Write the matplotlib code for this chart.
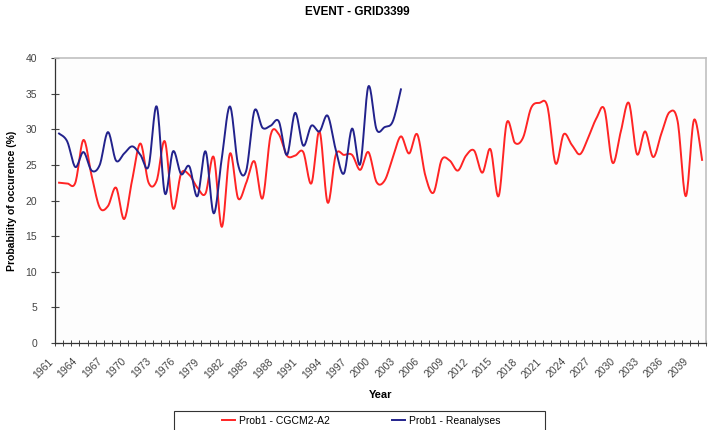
import numpy as np
import matplotlib
matplotlib.use('Agg')
import matplotlib.pyplot as plt
from matplotlib.patches import Rectangle
from matplotlib.transforms import ScaledTranslation

plt.rcParams['font.family'] = ['Liberation Sans', 'DejaVu Sans']

# ===DATA===
years = list(range(1961, 2041))

prob_cgcm = [22.5, 22.4, 22.5, 28.5, 23.5, 19.0, 19.2, 21.8, 17.4, 23.0,
             28.0, 22.5, 22.8, 28.3, 18.9, 23.8, 23.6, 21.8, 21.0, 26.1,
             16.3, 26.6, 20.3, 22.5, 25.5, 20.3, 29.2, 29.3, 26.3, 26.3,
             26.8, 22.4, 29.7, 19.7, 26.4, 26.4, 26.4, 24.3, 26.8, 22.6,
             22.8, 26.0, 29.0, 26.6, 29.3, 23.5, 21.1, 25.7, 25.6, 24.2,
             26.3, 27.0, 23.9, 27.2, 20.6, 30.9, 28.1, 28.8, 33.0, 33.7,
             33.2, 25.2, 29.3, 27.8, 26.5, 28.8, 31.5, 32.8, 25.3, 29.6,
             33.7, 26.5, 29.7, 26.1, 29.4, 32.4, 31.1, 20.6, 31.3, 25.7]

prob_rean = [29.4, 28.3, 24.7, 26.8, 24.2, 25.0, 29.6, 25.6, 26.6, 27.6,
             26.4, 24.8, 33.2, 21.0, 26.9, 23.7, 24.8, 20.6, 26.9, 18.2,
             26.0, 33.2, 25.0, 24.2, 32.6, 30.2, 30.5, 31.1, 26.4, 32.3,
             27.7, 30.5, 29.7, 31.9, 27.1, 23.8, 30.1, 25.1, 36.0, 30.0,
             30.3, 31.1, 35.6]

tick_years = years[:-1:3]


# Excel-like smoothed line (Catmull-Rom through the points)
def smooth(x, y, n=16):
    x = np.asarray(x, float)
    y = np.asarray(y, float)
    px = np.concatenate([[x[0]], x, [x[-1]]])
    py = np.concatenate([[y[0]], y, [y[-1]]])
    t = np.linspace(0, 1, n, endpoint=False)
    xs, ys = [], []
    for i in range(1, len(x)):
        for p, out in ((px, xs), (py, ys)):
            p0, p1, p2, p3 = p[i - 1], p[i], p[i + 1], p[i + 2]
            out.append(0.5 * (2 * p1 + (-p0 + p2) * t
                              + (2 * p0 - 5 * p1 + 4 * p2 - p3) * t ** 2
                              + (-p0 + 3 * p1 - 3 * p2 + p3) * t ** 3))
    xs.append([x[-1]])
    ys.append([y[-1]])
    return np.concatenate(xs), np.concatenate(ys)


# ===graph===
fig = plt.figure(figsize=(7.14, 4.30), dpi=100)
ax = fig.add_axes([0.077, 0.2023, 0.912, 0.6628])

idx = np.arange(len(years))
sx, sy = smooth(idx, prob_cgcm)
l1, = ax.plot(sx, sy, color='#ff2424', lw=1.4, label='Prob1 - CGCM2-A2')
sx, sy = smooth(idx[:len(prob_rean)], prob_rean)
l2, = ax.plot(sx, sy, color='#22228c', lw=1.4, label='Prob1 - Reanalyses')

ax.set_xlim(-0.5, len(years) - 0.5)
ax.set_ylim(0, 40)
ax.set_yticks(range(0, 41, 5))
ax.tick_params(axis='y', labelsize=7.5, direction='inout', length=6, width=0.8,
               colors='#444444', pad=10)

ax.set_xticks([years.index(y) for y in tick_years])
ax.set_xticklabels([str(y) for y in tick_years], rotation=45, ha='right',
                   rotation_mode='anchor', fontsize=7.5, color='#444444')
ax.set_xticks(np.arange(-0.5, len(years)), minor=True)
ax.tick_params(axis='x', which='major', length=0, pad=6)
ax.tick_params(axis='x', which='minor', direction='inout', length=5, width=0.7,
               color='#444444')
shift = ScaledTranslation(-0.11, -0.05, fig.dpi_scale_trans)
for lab in ax.get_xticklabels():
    lab.set_transform(lab.get_transform() + shift)

for s in ['left', 'bottom']:
    ax.spines[s].set_color('#333333')
    ax.spines[s].set_linewidth(0.9)
for s in ['top', 'right']:
    ax.spines[s].set_color('#c0c0c0')
    ax.spines[s].set_linewidth(1.2)

ax.set_facecolor('#fdfdfd')
ax.set_ylabel('Probability of occurence (%)', fontsize=7.5, fontweight='bold', labelpad=6)
ax.set_xlabel('Year', fontsize=8, fontweight='bold', labelpad=7)
fig.suptitle('EVENT - GRID3399', fontsize=8.5, fontweight='bold', x=0.5, y=0.985)

# legend box (cut by the bottom edge, like the original)
fig.patches.append(Rectangle((174 / 714, -0.05), (545 - 174) / 714, 0.05 + (430 - 411) / 430,
                             transform=fig.transFigure, fill=False,
                             edgecolor='#333333', lw=0.8))
fig.legend(handles=[l1, l2], loc='center', bbox_to_anchor=(0.5056, 0.022), ncol=2,
           fontsize=7.5, frameon=False, handlelength=1.3, handletextpad=0.3,
           columnspacing=6.0, borderpad=0.0)

fig.savefig('out.png', dpi=100)
